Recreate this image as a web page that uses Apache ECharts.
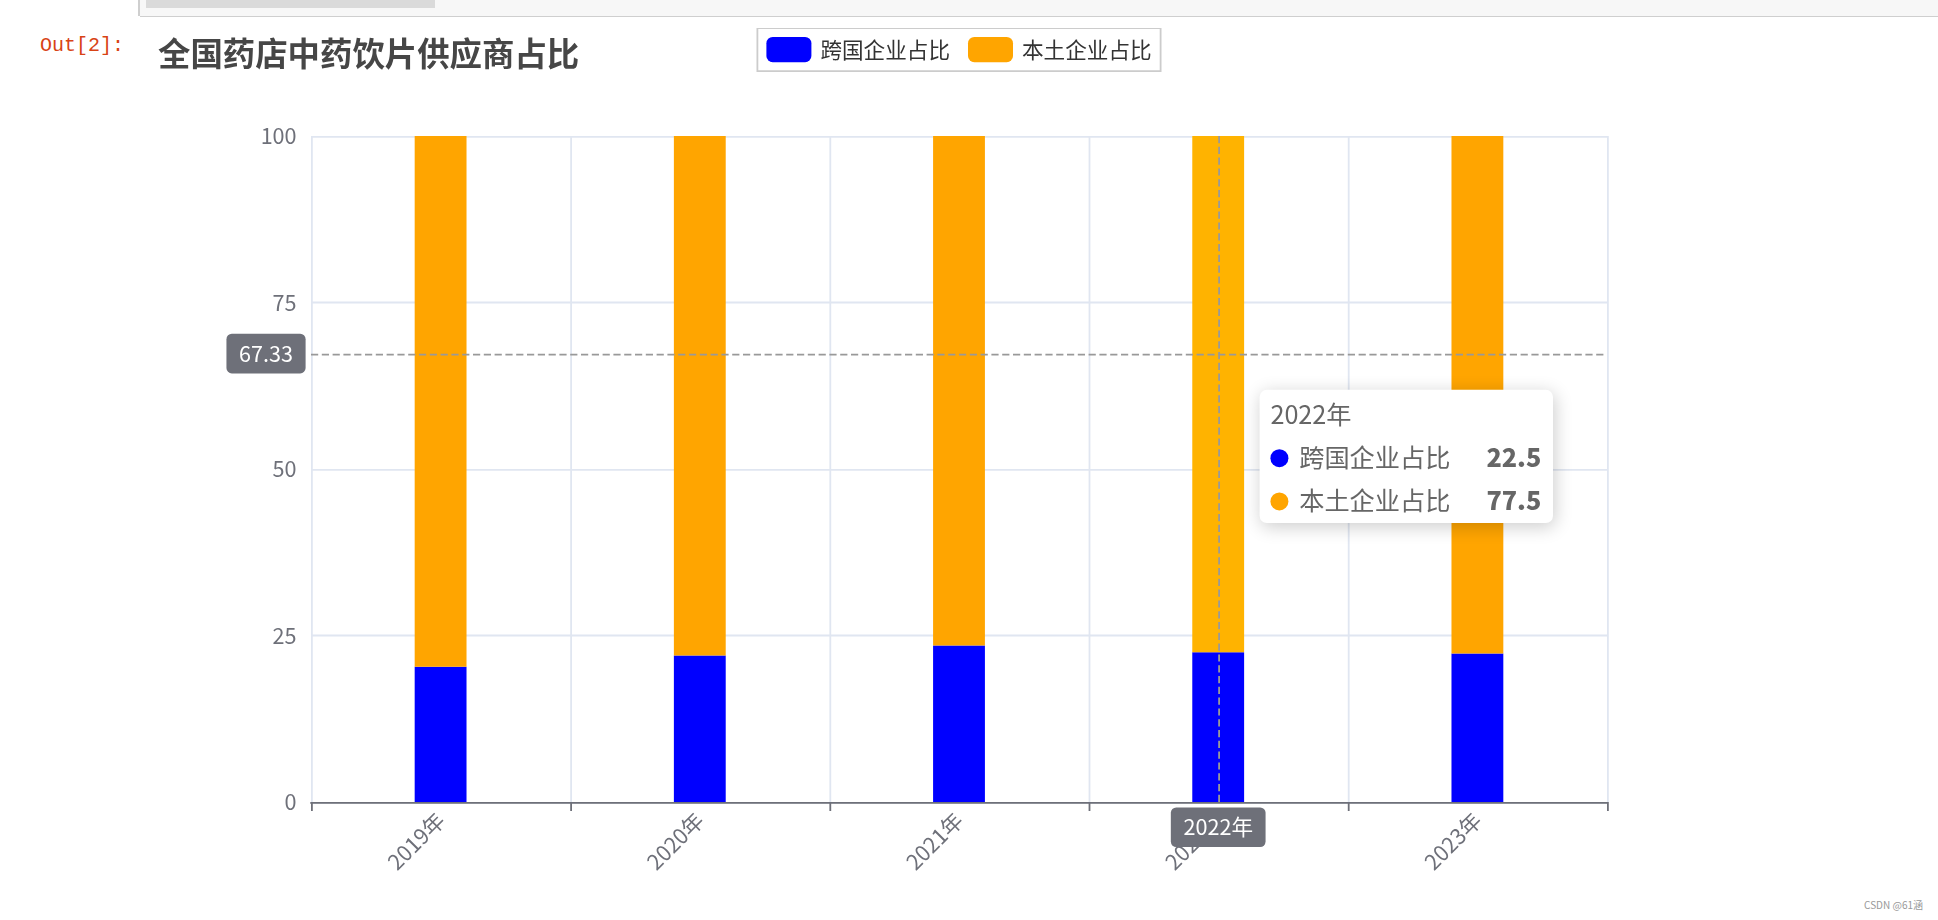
<!DOCTYPE html>
<html>
<head>
<meta charset="utf-8">
<script src="https://cdn.jsdelivr.net/npm/echarts@6/dist/echarts.min.js"></script>
<style>
html,body{margin:0;padding:0;width:1938px;height:920px;overflow:hidden;background:#fff;font-family:'Noto Sans CJK SC',sans-serif;}
#topbar{position:absolute;left:140px;top:0;width:1798px;height:16px;background:#f7f7f7;border-bottom:1px solid #cfcfcf;}
#topedge{position:absolute;left:138px;top:0;width:2px;height:16px;background:#cfcfcf;}
#incode{position:absolute;left:146px;top:0;width:289px;height:8px;background:#dadada;}
#prompt{position:absolute;left:40px;top:34px;font-family:'Liberation Mono',monospace;font-size:20px;line-height:24px;color:#D84315;}
#wm{position:absolute;right:15px;top:898px;font-size:10px;line-height:14px;color:#999;}
#chart{position:absolute;left:149px;top:28px;width:900px;height:490px;transform:scale(1.8);transform-origin:0 0;}
</style>
</head>
<body>
<div id="topbar"></div>
<div id="topedge"></div>
<div id="incode"></div>
<div id="prompt">Out[2]:</div>
<div id="chart"></div>
<div id="wm">CSDN @61涵</div>
<script>
const titleText = '全国药店中药饮片供应商占比';
const categories = ['2019年', '2020年', '2021年', '2022年', '2023年'];
const seriesNames = ['跨国企业占比', '本土企业占比'];
const multinationalShare = [20.3, 22.0, 23.5, 22.5, 22.3];
const domesticShare = [79.7, 78.0, 76.5, 77.5, 77.7];
const yMin = 0;
const yMax = 100;
const yInterval = 25;
const hoverCategoryIndex = 3;
const hoverValue = 67.33;

const chart = echarts.init(document.getElementById('chart'), null, { devicePixelRatio: 1.8, renderer: 'canvas' });

const option = {
  animation: false,
  textStyle: { fontFamily: "'Noto Sans CJK SC', sans-serif" },
  title: {
    text: titleText,
    left: 0, top: 0, padding: 5,
    textStyle: { fontSize: 18, fontWeight: 'bold', color: '#464646' }
  },
  legend: {
    data: seriesNames,
    top: 0, left: 'center', padding: 5, itemGap: 10,
    itemWidth: 25, itemHeight: 14, icon: 'roundRect',
    borderColor: '#ccc', borderWidth: 1,
    textStyle: { color: '#333', fontSize: 12 }
  },
  tooltip: {
    trigger: 'axis',
    triggerOn: 'none',
    alwaysShowContent: true,
    transitionDuration: 0,
    backgroundColor: '#fff',
    borderColor: '#fff',
    borderWidth: 1,
    padding: 5,
    textStyle: { color: '#666', fontSize: 14 },
    extraCssText: 'box-shadow: rgba(0,0,0,0.2) 1px 2px 10px; border-radius:4px;',
    axisPointer: {
      type: 'cross',
      crossStyle: { color: '#999', width: 1, type: 'dashed' },
      lineStyle: { color: '#999', width: 1, type: 'dashed' },
      label: { backgroundColor: '#6E7079', color: '#fff', fontSize: 12, padding: [5, 7, 5, 7], borderRadius: 3 }
    }
  },
  grid: { left: 90, right: 90, top: 60, bottom: 60 },
  xAxis: {
    type: 'category',
    data: categories,
    boundaryGap: true,
    axisLine: { show: true, lineStyle: { color: '#6E7079', width: 1 } },
    axisTick: { show: true, length: 5, lineStyle: { color: '#6E7079' } },
    axisLabel: { rotate: 45, interval: 0, color: '#6E7079', fontSize: 12, margin: 8 },
    splitLine: { show: true, lineStyle: { color: '#E0E6F1', width: 1 } }
  },
  yAxis: {
    type: 'value',
    min: yMin, max: yMax, interval: yInterval,
    axisLine: { show: false },
    axisTick: { show: false },
    axisLabel: { color: '#6E7079', fontSize: 12, margin: 8 },
    splitLine: { show: true, lineStyle: { color: '#E0E6F1', width: 1 } }
  },
  series: [
    {
      name: seriesNames[0], type: 'bar', stack: 'total', barWidth: '20%',
      data: multinationalShare,
      itemStyle: { color: '#0000FF' },
      emphasis: { itemStyle: { color: '#0000FF' } }
    },
    {
      name: seriesNames[1], type: 'bar', stack: 'total', barWidth: '20%',
      data: domesticShare,
      itemStyle: { color: '#FFA500' },
      emphasis: { itemStyle: { color: '#FFB300' } }
    }
  ]
};
chart.setOption(option);

const px = chart.convertToPixel({ xAxisIndex: 0 }, categories[hoverCategoryIndex]);
const py = chart.convertToPixel({ yAxisIndex: 0 }, hoverValue);
chart.dispatchAction({ type: 'highlight', seriesIndex: 1, dataIndex: hoverCategoryIndex });
chart.dispatchAction({ type: 'showTip', x: px + 2.5, y: py });
</script>
</body>
</html>
